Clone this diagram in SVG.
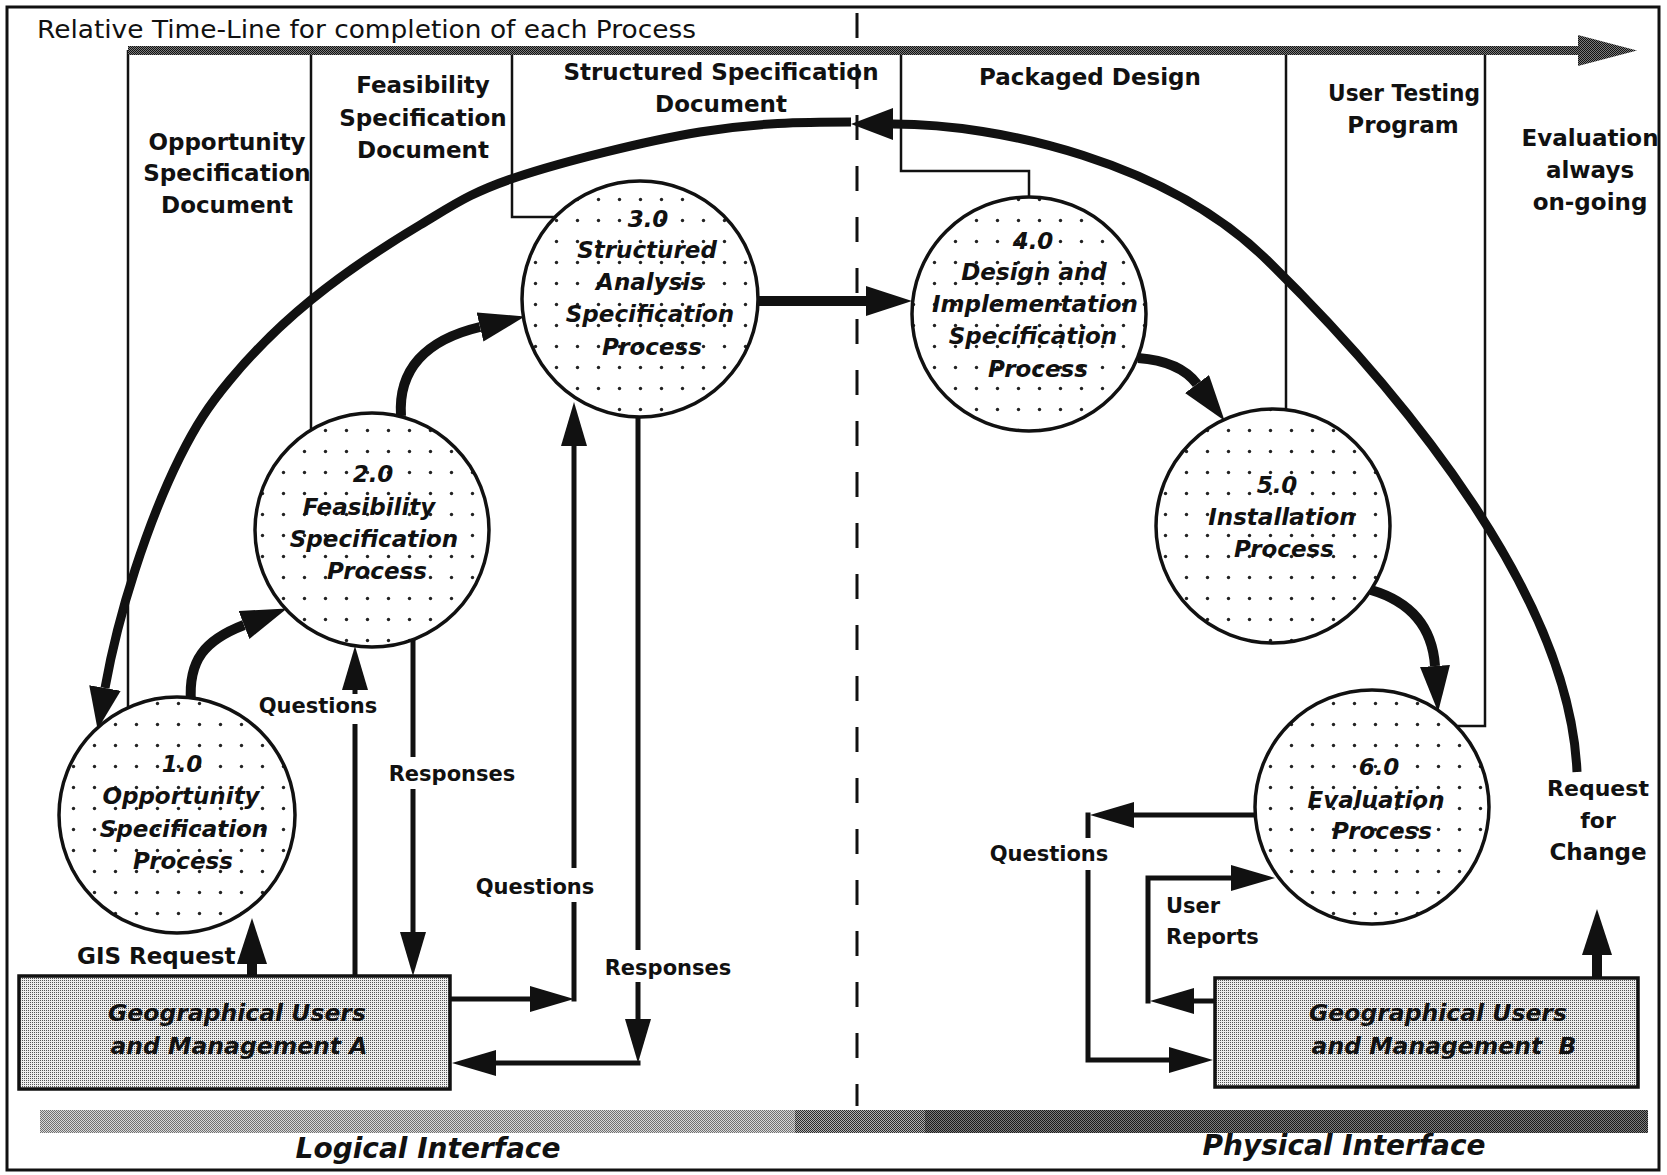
<svg xmlns="http://www.w3.org/2000/svg" width="1667" height="1175" viewBox="0 0 1667 1175">
  <defs>
    <style>
      .title { font: 25px "DejaVu Sans", sans-serif; fill: #111; }
      .doc { font: bold 23px "DejaVu Sans", sans-serif; text-anchor: middle; fill: #111; }
      .proc { font: italic bold 23px "DejaVu Sans", sans-serif; text-anchor: middle; fill: #111; }
      .user { font: italic bold 23.5px "DejaVu Sans", sans-serif; text-anchor: middle; fill: #111; }
      .lbl { font: bold 21px "DejaVu Sans", sans-serif; fill: #111; }
      .big { font: italic bold 28px "DejaVu Sans", sans-serif; text-anchor: middle; fill: #111; }
      .docline { fill: none; stroke: #111; stroke-width: 2.5; }
      .thin { fill: none; stroke: #111; stroke-width: 5; stroke-linejoin: miter; }
      .flow { fill: none; stroke: #111; stroke-width: 10; }
      .arc { fill: none; stroke: #111; stroke-width: 9; }
      .node { fill: url(#dots); stroke: #111; stroke-width: 3.5; }
      .box { fill: url(#screen); stroke: #111; stroke-width: 3.5; }
    </style>
    <!-- dotted fill of the process bubbles -->
    <pattern id="dots" width="21" height="21" patternUnits="userSpaceOnUse">
      <rect width="21" height="21" fill="#fff"/>
      <circle cx="10.5" cy="10.5" r="1.7" fill="#222"/>
    </pattern>
    <!-- halftone screens -->
    <pattern id="screen" width="2" height="2" patternUnits="userSpaceOnUse">
      <rect width="2" height="2" fill="#ededed"/>
      <rect width="1" height="1" fill="#555"/>
    </pattern>
    <pattern id="timeScreen" width="2" height="2" patternUnits="userSpaceOnUse">
      <rect width="2" height="2" fill="#7a7a7a"/>
      <rect width="1" height="1" fill="#111"/>
      <rect x="1" y="1" width="1" height="1" fill="#111"/>
    </pattern>
    <pattern id="barLight" width="2" height="2" patternUnits="userSpaceOnUse">
      <rect width="2" height="2" fill="#d8d8d8"/>
      <rect width="1" height="1" fill="#707070"/>
      <rect x="1" y="1" width="1" height="1" fill="#707070"/>
    </pattern>
    <pattern id="barMid" width="2" height="2" patternUnits="userSpaceOnUse">
      <rect width="2" height="2" fill="#b0b0b0"/>
      <rect width="1" height="1" fill="#2a2a2a"/>
      <rect x="1" y="1" width="1" height="1" fill="#2a2a2a"/>
    </pattern>
    <pattern id="barDark" width="2" height="2" patternUnits="userSpaceOnUse">
      <rect width="2" height="2" fill="#7c7c7c"/>
      <rect width="1" height="1" fill="#1a1a1a"/>
      <rect x="1" y="1" width="1" height="1" fill="#1a1a1a"/>
    </pattern>
    <!-- arrowheads: the head starts where the path ends -->
    <marker id="ahBig" viewBox="0 0 46 30" markerUnits="userSpaceOnUse" markerWidth="46" markerHeight="30" refX="0" refY="15" orient="auto">
      <path d="M0,0 L46,15 L0,30 z" fill="#111"/>
    </marker>
    <marker id="ahThin" viewBox="0 0 44 26" markerUnits="userSpaceOnUse" markerWidth="44" markerHeight="26" refX="0" refY="13" orient="auto">
      <path d="M0,0 L44,13 L0,26 z" fill="#111"/>
    </marker>
    <marker id="ahArc" viewBox="0 0 42 32" markerUnits="userSpaceOnUse" markerWidth="42" markerHeight="32" refX="0" refY="16" orient="auto">
      <path d="M0,0 L42,16 L0,32 z" fill="#111"/>
    </marker>
  </defs>

  <rect width="1667" height="1175" fill="#fff"/>
  <rect id="frame" x="7" y="7" width="1652" height="1163" fill="none" stroke="#111" stroke-width="3"/>

  <!-- relative time-line with the document milestones -->
  <g id="timeline">
    <text class="title" x="37" y="38" textLength="659" lengthAdjust="spacingAndGlyphs">Relative Time-Line for completion of each Process</text>
    <path class="docline" d="M128,50 V708"/>
    <path class="docline" d="M311,50 V430"/>
    <path class="docline" d="M512,50 V217 H557"/>
    <path class="docline" d="M901,50 V171 H1029 V198"/>
    <path class="docline" d="M1286,50 V410"/>
    <path class="docline" d="M1485,50 V726 H1456"/>
    <rect x="128" y="46" width="1452" height="9" fill="url(#timeScreen)"/>
    <path d="M1578,35 L1637,50.5 L1578,66 z" fill="url(#timeScreen)"/>
    <text class="doc" x="227" y="150">Opportunity</text>
    <text class="doc" x="227" y="181">Specification</text>
    <text class="doc" x="227" y="213">Document</text>
    <text class="doc" x="423" y="93">Feasibility</text>
    <text class="doc" x="423" y="126">Specification</text>
    <text class="doc" x="423" y="158">Document</text>
    <text class="doc" x="721" y="80">Structured Specification</text>
    <text class="doc" x="721" y="112">Document</text>
    <text class="doc" x="1090" y="85">Packaged Design</text>
    <text class="doc" x="1404" y="101" textLength="152" lengthAdjust="spacingAndGlyphs">User Testing</text>
    <text class="doc" x="1403" y="133">Program</text>
    <text class="doc" x="1590" y="146">Evaluation</text>
    <text class="doc" x="1590" y="178">always</text>
    <text class="doc" x="1590" y="210">on-going</text>
  </g>

  <!-- logical / physical boundary -->
  <path id="boundary" d="M857,13 V1106" fill="none" stroke="#111" stroke-width="3" stroke-dasharray="25 26"/>

  <g id="connectors">
    <!-- feedback loop: request for change back to 1.0 -->
    <path class="arc" d="M1577,772 C1570,600 1410,400 1267,260 C1167,162 1000,124 893,124" marker-end="url(#ahArc)"/>
    <path class="arc" d="M851,122 C801,122 755.7,122.8 700,132 C644.3,141.2 563.7,161.5 517,177 C470.3,192.5 454.3,204.5 420,225 C385.7,245.5 342.7,274.2 311,300 C279.3,325.8 251.8,353.8 230,380 C208.2,406.2 195.8,425.3 180,457 C164.2,488.7 147.5,531.5 135,570 C122.5,608.5 112,649 105,688" marker-end="url(#ahArc)"/>

    <!-- process sequence -->
    <path class="flow" d="M191,702 C188,660 205,640 244,625" marker-end="url(#ahBig)"/>
    <path class="flow" d="M401,416 C398,370 425,340 480,327" marker-end="url(#ahBig)"/>
    <path class="flow" d="M757,301 H866" marker-end="url(#ahBig)"/>
    <path class="flow" d="M1138,358 C1165,360 1185,368 1197,384" marker-end="url(#ahBig)"/>
    <path class="flow" d="M1371,590 C1405,600 1432,622 1435,666" marker-end="url(#ahBig)"/>

    <!-- GIS request -->
    <path class="flow" d="M252,977 V964" marker-end="url(#ahBig)"/>
    <text class="lbl" x="77" y="964" style="font-size:23px">GIS Request</text>

    <!-- 2.0 questions / responses -->
    <path class="thin" d="M355,976 V724"/>
    <path class="thin" d="M355,694 V690" marker-end="url(#ahThin)"/>
    <text class="lbl" x="318" y="713" text-anchor="middle">Questions</text>
    <path class="thin" d="M413,637 V757"/>
    <path class="thin" d="M413,789 V932" marker-end="url(#ahThin)"/>
    <text class="lbl" x="452" y="781" text-anchor="middle">Responses</text>

    <!-- 3.0 questions / responses -->
    <path class="thin" d="M450,999 H530" marker-end="url(#ahThin)"/>
    <path class="thin" d="M574,1001.5 V902"/>
    <path class="thin" d="M574,868 V446" marker-end="url(#ahThin)"/>
    <text class="lbl" x="535" y="894" text-anchor="middle">Questions</text>
    <path class="thin" d="M638,416 V950"/>
    <path class="thin" d="M638,982 V1019" marker-end="url(#ahThin)"/>
    <path class="thin" d="M640.5,1063 H496" marker-end="url(#ahThin)"/>
    <text class="lbl" x="668" y="975" text-anchor="middle">Responses</text>

    <!-- 6.0 questions to users B -->
    <path class="thin" d="M1257,815 H1134" marker-end="url(#ahThin)"/>
    <path class="thin" d="M1088,812.5 V838"/>
    <path class="thin" d="M1088,870 V1060 H1169" marker-end="url(#ahThin)"/>
    <text class="lbl" x="1049" y="861" text-anchor="middle">Questions</text>

    <!-- user reports from users B to 6.0 -->
    <path class="thin" d="M1216,1001 H1194" marker-end="url(#ahThin)"/>
    <path class="thin" d="M1148,1003.5 V878 H1231" marker-end="url(#ahThin)"/>
    <text class="lbl" x="1166" y="913">User</text>
    <text class="lbl" x="1166" y="944">Reports</text>

    <!-- request for change -->
    <path class="flow" d="M1597,978 V955" marker-end="url(#ahBig)"/>
    <text class="lbl" x="1598" y="796" text-anchor="middle" style="font-size:22px">Request</text>
    <text class="lbl" x="1598" y="828" text-anchor="middle" style="font-size:22px">for</text>
    <text class="lbl" x="1598" y="860" text-anchor="middle" style="font-size:23px">Change</text>
  </g>

  <g id="p1">
    <circle class="node" cx="177" cy="815" r="118"/>
    <text class="proc" x="182" y="772">1.0</text>
    <text class="proc" x="181" y="804">Opportunity</text>
    <text class="proc" x="184" y="837">Specification</text>
    <text class="proc" x="183" y="869">Process</text>
  </g>
  <g id="p2">
    <circle class="node" cx="372" cy="530" r="117"/>
    <text class="proc" x="373" y="482">2.0</text>
    <text class="proc" x="369" y="515">Feasibility</text>
    <text class="proc" x="374" y="547">Specification</text>
    <text class="proc" x="377" y="579">Process</text>
  </g>
  <g id="p3">
    <circle class="node" cx="640" cy="299" r="118"/>
    <text class="proc" x="648" y="227">3.0</text>
    <text class="proc" x="647" y="258">Structured</text>
    <text class="proc" x="650" y="290">Analysis</text>
    <text class="proc" x="650" y="322">Specification</text>
    <text class="proc" x="652" y="355">Process</text>
  </g>
  <g id="p4">
    <circle class="node" cx="1029" cy="314" r="117"/>
    <text class="proc" x="1033" y="249">4.0</text>
    <text class="proc" x="1034" y="280">Design and</text>
    <text class="proc" x="1035" y="312">Implementation</text>
    <text class="proc" x="1033" y="344">Specification</text>
    <text class="proc" x="1038" y="377">Process</text>
  </g>
  <g id="p5">
    <circle class="node" cx="1273" cy="526" r="117"/>
    <text class="proc" x="1277" y="493">5.0</text>
    <text class="proc" x="1282" y="525">Installation</text>
    <text class="proc" x="1284" y="557">Process</text>
  </g>
  <g id="p6">
    <circle class="node" cx="1372" cy="807" r="117"/>
    <text class="proc" x="1379" y="775">6.0</text>
    <text class="proc" x="1376" y="808">Evaluation</text>
    <text class="proc" x="1382" y="839">Process</text>
  </g>

  <g id="usersA">
    <rect class="box" x="19" y="976" width="431" height="113"/>
    <text class="user" x="237" y="1021">Geographical Users</text>
    <text class="user" x="239" y="1054">and Management A</text>
  </g>
  <g id="usersB">
    <rect class="box" x="1215" y="978" width="423" height="109"/>
    <text class="user" x="1438" y="1021">Geographical Users</text>
    <text class="user" x="1444" y="1054">and Management&#160; B</text>
  </g>

  <!-- interface band -->
  <g id="interfaces">
    <rect x="40" y="1110" width="755" height="23" fill="url(#barLight)"/>
    <rect x="795" y="1110" width="130" height="23" fill="url(#barMid)"/>
    <rect x="925" y="1110" width="723" height="23" fill="url(#barDark)"/>
    <text class="big" x="428" y="1158">Logical Interface</text>
    <text class="big" x="1344" y="1155">Physical Interface</text>
  </g>
</svg>
